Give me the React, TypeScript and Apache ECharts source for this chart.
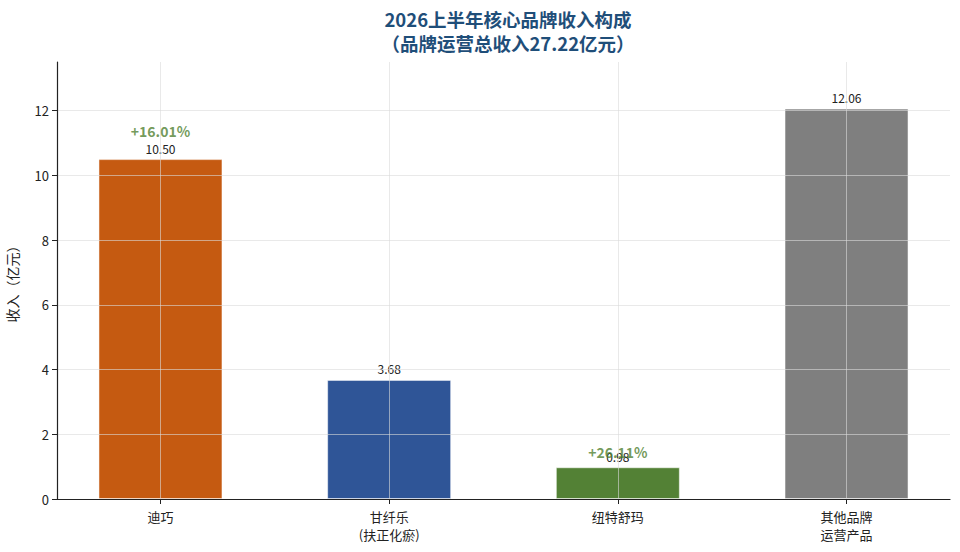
import React, { useEffect, useRef } from "react";
import * as echarts from "echarts";

const categories = ["迪巧", "甘纤乐\n(扶正化瘀)", "纽特舒玛", "其他品牌\n运营产品"];
const revenue = [10.5, 3.68, 0.98, 12.06];
const barColors = ["#c55a11", "#2f5597", "#538135", "#7f7f7f"];
const growthLabels = ["+16.01%", "", "+26.11%", ""];
const growthOffsets = [-18, 0, -5, 0];
const yTicks = [0, 2, 4, 6, 8, 10, 12];
const xTicks = [0, 1, 2, 3];
const titleLines = ["2026上半年核心品牌收入构成", "（品牌运营总收入27.22亿元）"];

const FONT = "'Noto Sans CJK SC', 'Noto Sans', sans-serif";
const GRID = "rgba(218,218,218,0.6)";

export default function App() {
  const ref = useRef<HTMLDivElement>(null);
  useEffect(() => {
    const chart = echarts.init(ref.current!, null, { renderer: "svg" });
    const option = {
      animation: false,
      backgroundColor: "#ffffff",
      textStyle: { fontFamily: FONT },
      title: {
        text: titleLines.join("\n"),
        left: 503,
        top: 2,
        textAlign: "center",
        textStyle: {
          fontFamily: FONT,
          fontSize: 18.5,
          fontWeight: "bold",
          color: "#1f4e79",
          lineHeight: 24,
        },
      },
      grid: {
        left: 57,
        right: 10,
        top: 62,
        bottom: 53,
        containLabel: false,
        outerBoundsMode: "none",
      },
      xAxis: {
        type: "value",
        min: -0.4525,
        max: 3.4525,
        z: 5,
        axisLine: { show: true, onZero: false, lineStyle: { color: "#222", width: 1.2 } },
        axisTick: { show: true, customValues: xTicks, length: 5, lineStyle: { color: "#222" } },
        axisLabel: {
          customValues: xTicks,
          formatter: (v: number) => categories[Math.round(v)] ?? "",
          fontFamily: FONT,
          fontSize: 13,
          color: "#222",
          margin: 8,
          lineHeight: 18,
        },
        splitLine: { show: true, lineStyle: { color: GRID, width: 1 } },
      },
      yAxis: {
        type: "value",
        min: 0,
        max: 13.5,
        z: 5,
        name: "收入（亿元）",
        nameLocation: "middle",
        nameGap: 38,
        nameTextStyle: { fontFamily: FONT, fontSize: 14, color: "#222" },
        axisLine: { show: true, onZero: false, lineStyle: { color: "#222", width: 1.2 } },
        axisTick: { show: true, customValues: yTicks, length: 5, lineStyle: { color: "#222" } },
        axisLabel: {
          customValues: yTicks,
          fontFamily: FONT,
          fontSize: 13,
          color: "#222",
          margin: 8,
        },
        splitLine: { show: true, lineStyle: { color: GRID, width: 1 } },
      },
      series: [
        {
          type: "bar",
          barWidth: 124,
          z: 2,
          data: revenue.map((v, i) => ({
            value: [i, v],
            itemStyle: {
              color: barColors[i],
              borderColor: "rgba(255,255,255,0.5)",
              borderWidth: 1,
            },
          })),
          label: {
            show: true,
            position: "top",
            distance: 5,
            fontFamily: FONT,
            fontSize: 12,
            color: "#222",
            formatter: (p: any) => p.value[1].toFixed(2),
          },
        },
        {
          type: "scatter",
          symbolSize: 0,
          z: 6,
          silent: true,
          data: revenue
            .map((v, i) => ({
              value: [i, v],
              label: {
                show: growthLabels[i] !== "",
                position: "top",
                offset: [0, growthOffsets[i]],
                formatter: growthLabels[i],
              },
            }))
            .filter((_, i) => growthLabels[i] !== ""),
          label: {
            show: true,
            position: "top",
            distance: 3,
            fontFamily: FONT,
            fontSize: 14,
            fontWeight: "bold",
            color: "#4f7f30",
          },
        },
      ],
    };
    chart.setOption(option as any);
    return () => chart.dispose();
  }, []);
  return (
    <div
      ref={ref}
      style={{ position: "fixed", left: 0, top: 0, width: 960, height: 552 }}
    />
  );
}
